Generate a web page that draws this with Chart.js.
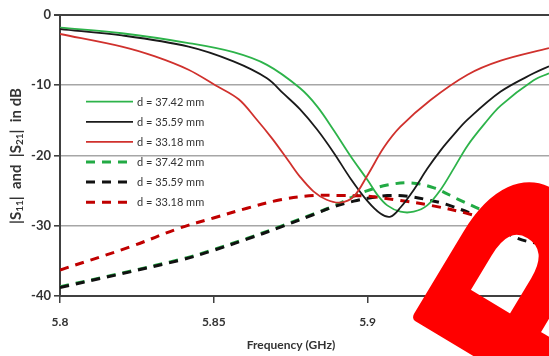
<!DOCTYPE html>
<html>
<head>
<meta charset="utf-8">
<script src="https://cdn.jsdelivr.net/npm/chart.js@4.4.0/dist/chart.umd.min.js"></script>
<style>
  html, body { margin: 0; padding: 0; background: #fff; overflow: hidden; }
  #wrap { width: 549px; height: 356px; }
</style>
</head>
<body>
<div id="wrap"><canvas id="graficoS" width="549" height="356"></canvas></div>
<script>
// dados (frequencia em GHz, magnitude em dB)
const legendas = ['d = 37.42 mm', 'd = 35.59 mm', 'd = 33.18 mm', 'd = 37.42 mm', 'd = 35.59 mm', 'd = 33.18 mm'];

// |S11| - linhas cheias
const freqS11Verde = [5.800, 5.8201, 5.8418, 5.8564, 5.8673, 5.878, 5.8836, 5.889, 5.8945, 5.900, 5.9032, 5.9064, 5.9107, 5.915, 5.9194, 5.9237, 5.9281, 5.9325, 5.938, 5.9433, 5.954, 5.959];
const s11Verde     = [-1.8, -2.6, -4.0, -5.3, -7.1, -10.4, -13.0, -16.4, -20.1, -23.5, -25.6, -27.1, -28.0, -28.0, -27.1, -24.9, -21.8, -18.6, -15.5, -12.9, -9.3, -8.3];

const freqS11Preto = [5.800, 5.8201, 5.8418, 5.8564, 5.8673, 5.8727, 5.878, 5.8836, 5.889, 5.8945, 5.900, 5.9043, 5.9075, 5.9107, 5.915, 5.9194, 5.9237, 5.9281, 5.9325, 5.9433, 5.954, 5.959];
const s11Preto     = [-2.0, -2.9, -4.5, -6.6, -9.0, -11.2, -13.4, -16.3, -19.6, -23.3, -26.5, -28.3, -28.7, -27.4, -24.9, -21.9, -19.3, -17.0, -14.9, -10.9, -8.3, -7.3];

const freqS11Verm = [5.800, 5.8201, 5.8309, 5.8418, 5.8505, 5.8581, 5.8636, 5.8690, 5.8745, 5.878, 5.8824, 5.8867, 5.8911, 5.8954, 5.900, 5.9054, 5.9107, 5.9205, 5.9325, 5.9433, 5.959];
const s11Verm     = [-2.7, -4.5, -5.9, -7.8, -10.0, -12.0, -14.7, -17.6, -20.9, -23.0, -25.1, -26.3, -26.7, -25.9, -22.8, -18.8, -15.9, -12.1, -8.5, -6.5, -4.7];

// |S21| - linhas tracejadas
const freqS21Verde = [5.800, 5.8391, 5.8499, 5.8608, 5.8717, 5.8825, 5.889, 5.8955, 5.900, 5.9064, 5.914, 5.9216, 5.9293, 5.9369, 5.959];
const s21Verde     = [-38.7, -34.8, -33.4, -31.8, -30.1, -28.3, -27.2, -25.8, -25.0, -24.2, -23.9, -24.6, -26.2, -27.7, -31.5];

const freqS21Preto = [5.800, 5.8391, 5.8499, 5.8608, 5.8717, 5.8825, 5.889, 5.8955, 5.900, 5.9064, 5.913, 5.9194, 5.9259, 5.9369, 5.9488, 5.959];
const s21Preto     = [-38.8, -34.9, -33.5, -31.9, -30.2, -28.4, -27.3, -26.5, -26.1, -25.7, -25.8, -26.3, -27.0, -28.9, -31.8, -32.8];

const freqS21Verm = [5.800, 5.8228, 5.8391, 5.8499, 5.8608, 5.8717, 5.8825, 5.8912, 5.900, 5.9107, 5.9205, 5.932, 5.950, 5.959];
const s21Verm     = [-36.3, -33.0, -30.3, -28.9, -27.5, -26.3, -25.7, -25.7, -25.8, -26.4, -27.1, -28.2, -30.5, -31.5];

const ticksX = [5.8, 5.85, 5.9, 5.95];
const ticksY = [0, -10, -20, -30, -40];

function pontos(fs, vs) {
    return fs.map((f, i) => ({ x: f, y: vs[i] }));
}

function serie(idx, fs, vs, cor, tracejada, ordem) {
    return {
        label: legendas[idx],
        data: pontos(fs, vs),
        borderColor: cor,
        backgroundColor: cor,
        borderWidth: tracejada ? 3 : 1.8,
        borderDash: tracejada ? [9, 7] : [],
        pointRadius: 0,
        tension: 0.35,
        fill: false,
        order: ordem
    };
}

const fonte = "Lato, 'Open Sans', sans-serif";
const corTexto = '#333';

// legenda dentro da area do grafico
const legendaInterna = {
    id: 'legendaInterna',
    afterDatasetsDraw(chart) {
        const ctx = chart.ctx;
        ctx.save();
        chart.data.datasets.forEach((ds, i) => {
            const y = 101.7 + i * 20.1;
            ctx.beginPath();
            ctx.strokeStyle = ds.borderColor;
            ctx.lineWidth = ds.borderWidth;
            ctx.setLineDash(ds.borderDash);
            ctx.moveTo(86, y);
            ctx.lineTo(133, y);
            ctx.stroke();
            ctx.setLineDash([]);
            ctx.fillStyle = corTexto;
            ctx.font = '11px ' + fonte;
            ctx.textBaseline = 'middle';
            ctx.textAlign = 'left';
            ctx.fillText(ds.label, 137, y + 0.5);
        });
        ctx.restore();
    }
};

// titulos dos eixos (com subscrito no eixo y)
const titulosEixos = {
    id: 'titulosEixos',
    afterDraw(chart) {
        const ctx = chart.ctx;
        ctx.save();
        ctx.fillStyle = corTexto;
        ctx.textBaseline = 'middle';
        ctx.font = 'bold 12px ' + fonte;
        ctx.textAlign = 'center';
        ctx.fillText('Frequency (GHz)', 291, 345);

        const partes = [['|S', false], ['11', true], ['|  and  |S', false], ['21', true], ['|  in dB', false]];
        const fN = 'bold 15px ' + fonte;
        const fS = 'bold 10px ' + fonte;
        let total = 0;
        partes.forEach(p => { ctx.font = p[1] ? fS : fN; total += ctx.measureText(p[0]).width; });
        ctx.translate(16, 156);
        ctx.rotate(-Math.PI / 2);
        ctx.textAlign = 'left';
        let x = -total / 2;
        partes.forEach(p => {
            ctx.font = p[1] ? fS : fN;
            ctx.fillText(p[0], x, p[1] ? 4 : 0);
            x += ctx.measureText(p[0]).width;
        });
        ctx.restore();
    }
};

// marca vermelha sobreposta no canto
const marcaVermelha = {
    id: 'marcaVermelha',
    afterDraw(chart) {
        const ctx = chart.ctx;
        const S = 245;
        ctx.save();
        ctx.translate(413, 311);
        ctx.rotate(-59 * Math.PI / 180);
        ctx.scale(1.25, 1);
        ctx.fillStyle = '#ff0000';
        ctx.strokeStyle = '#ff0000';
        ctx.lineWidth = 9;
        ctx.lineJoin = 'round';
        ctx.font = 'bold ' + S + "px 'Liberation Sans'";
        ctx.textAlign = 'left';
        ctx.textBaseline = 'alphabetic';
        ctx.fillText('P', -0.073 * S, 0.716 * S);
        ctx.strokeText('P', -0.073 * S, 0.716 * S);
        ctx.restore();
    }
};

function inicializarGrafico() {
    const ctx = document.getElementById('graficoS').getContext('2d');
    new Chart(ctx, {
        type: 'line',
        data: {
            datasets: [
                serie(0, freqS11Verde, s11Verde, '#2db34a', false, 2),
                serie(1, freqS11Preto, s11Preto, '#1a1a1a', false, 1),
                serie(2, freqS11Verm, s11Verm, '#d0312d', false, 0),
                serie(3, freqS21Verde, s21Verde, '#22aa44', true, 5),
                serie(4, freqS21Preto, s21Preto, '#111111', true, 4),
                serie(5, freqS21Verm, s21Verm, '#c00000', true, 3)
            ]
        },
        options: {
            responsive: false,
            animation: false,
            layout: { padding: { top: 15, right: 0, left: 0, bottom: 0 } },
            plugins: {
                legend: { display: false },
                tooltip: { enabled: false }
            },
            scales: {
                x: {
                    type: 'linear',
                    min: 5.8,
                    max: 5.959,
                    afterBuildTicks: s => { s.ticks = ticksX.map(v => ({ value: v })); },
                    afterFit: s => { s.height = 60; },
                    grid: { drawOnChartArea: false, tickLength: 7, tickColor: '#404040', lineWidth: 1.5 },
                    border: { color: '#404040', width: 2 },
                    ticks: {
                        padding: 12,
                        maxRotation: 0,
                        color: corTexto,
                        font: { family: fonte, size: 12, weight: 'bold' },
                        callback: v => String(v)
                    }
                },
                y: {
                    min: -40,
                    max: 0,
                    afterBuildTicks: s => { s.ticks = ticksY.map(v => ({ value: v })); },
                    afterFit: s => { s.width = 60; },
                    grid: {
                        color: c => (c.tick && (c.tick.value === 0 || c.tick.value === -40)) ? '#404040' : '#a6a6a6',
                        lineWidth: c => (c.tick && c.tick.value === 0) ? 2 : 1.6,
                        tickLength: 6,
                        tickColor: '#404040'
                    },
                    border: { color: '#404040', width: 2 },
                    ticks: {
                        padding: 3,
                        color: corTexto,
                        font: { family: fonte, size: 13, weight: 'bold' },
                        callback: v => String(v)
                    }
                }
            }
        },
        plugins: [legendaInterna, titulosEixos, marcaVermelha]
    });
}

document.addEventListener('DOMContentLoaded', inicializarGrafico);
</script>
</body>
</html>
